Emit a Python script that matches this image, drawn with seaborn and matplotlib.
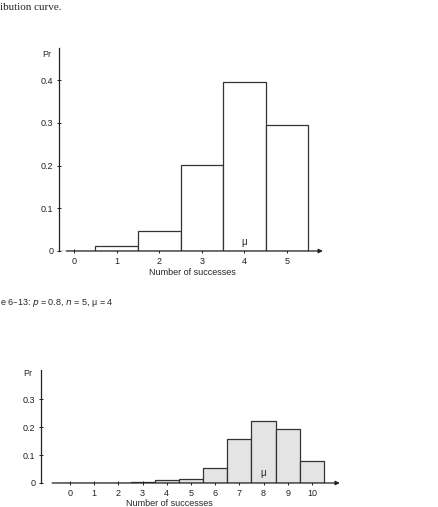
"""
Binomial histograms, two panels (n = 5 and n = 10, p = 0.8)
Bars read off the scanned textbook page
"""
import numpy as np
import pandas as pd
import matplotlib
matplotlib.use('Agg')
import matplotlib.pyplot as plt
import seaborn as sns

# panel 1: n = 5
successes_5 = [0, 1, 2, 3, 4, 5]
pr_5 = [0.0, 0.011, 0.046, 0.202, 0.395, 0.294]
yticks_5 = [0, 0.1, 0.2, 0.3, 0.4]

# panel 2: n = 10
successes_10 = [0, 1, 2, 3, 4, 5, 6, 7, 8, 9, 10]
pr_10 = [0.0, 0.0, 0.0, 0.003, 0.009, 0.016, 0.055, 0.156, 0.222, 0.194, 0.080]
yticks_10 = [0, 0.1, 0.2, 0.3]

tick_labels = lambda vals: ['0' if v == 0 else f'{v:.1f}' for v in vals]

sns.set_style('ticks')
plt.rcParams['font.family'] = ['Liberation Sans', 'DejaVu Sans']

fig = plt.figure(figsize=(4.38, 5.07), dpi=100)
W, H = 438, 507
FS = 6.5


def px_axes(left, top, right, bottom):
    return fig.add_axes([left / W, 1 - bottom / H, (right - left) / W, (bottom - top) / H])


def draw_panel(ax, xs, ys, yticks, xlim, ylim, fill, axis_start, mu, mu_y, label_x, label_y):
    df = pd.DataFrame({'k': xs, 'pr': ys})
    sns.barplot(data=df, x='k', y='pr', native_scale=True, width=1,
                color=fill, edgecolor='#333333', linewidth=0.9,
                saturation=1, ax=ax)
    ax.set_xlim(*xlim)
    ax.set_ylim(*ylim)
    ax.set_xticks(xs)
    ax.set_xticklabels([str(v) for v in xs], fontsize=FS)
    ax.set_yticks(yticks)
    ax.set_yticklabels(tick_labels(yticks), fontsize=FS)
    ax.tick_params(axis='both', direction='inout', length=3, width=0.7,
                   colors='#222222', pad=2.5)
    for side in ['top', 'right', 'bottom']:
        ax.spines[side].set_visible(False)
    ax.spines['left'].set_linewidth(0.9)
    ax.spines['left'].set_color('#222222')
    ax.annotate('', xy=(xlim[1] - 0.05, 0), xytext=(axis_start, 0),
                arrowprops=dict(arrowstyle='-|>', lw=0.9, color='#222222',
                                mutation_scale=6, shrinkA=0, shrinkB=0),
                annotation_clip=False)
    ax.text(mu, mu_y, 'μ', ha='center', va='center', fontsize=FS + 0.5)
    ax.set_xlabel('Number of successes', fontsize=FS)
    ax.xaxis.set_label_coords(label_x, label_y)
    ax.set_ylabel('')
    ax.text(-0.03, 0.97, 'Pr', transform=ax.transAxes, ha='right', va='center', fontsize=FS)


ax1 = px_axes(59, 48, 325, 251)
draw_panel(ax1, successes_5, pr_5, yticks_5, (-0.352, 5.89), (0, 0.475),
           'white', -0.18, 4, 0.021, 0.5, -0.082)

ax2 = px_axes(41, 370, 341, 483)
draw_panel(ax2, successes_10, pr_10, yticks_10, (-1.2, 11.2), (0, 0.404),
           '#e4e4e4', -0.74, 8, 0.036, 0.427, -0.14)

fig.text(0, 1 - 7 / H, 'ibution curve.', family=['Liberation Serif', 'DejaVu Serif'],
         fontsize=8, ha='left', va='center')
fig.text(0, 1 - 303 / H, 'e 6–13: $p$ = 0.8, $n$ = 5, μ = 4', fontsize=6.5,
         ha='left', va='center')

plt.savefig('out.png', dpi=100)
